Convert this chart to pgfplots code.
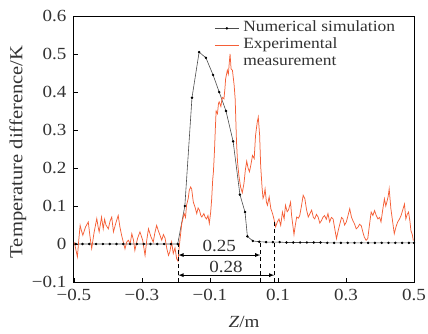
\documentclass[border=0pt]{standalone}
\usepackage{pgfplots}
\pgfplotsset{compat=1.18}
\usepackage{fontspec}
\setmainfont{Liberation Serif}[FakeStretch=1.12]
\definecolor{expc}{RGB}{245,95,55}
\definecolor{txt}{RGB}{50,50,50}
\begin{document}
\begin{tikzpicture}
\begin{axis}[
  scale only axis, width=340pt, height=266pt,
  at={(0,0)}, anchor=south west,
  xmin=-0.5, xmax=0.5, ymin=-0.1, ymax=0.6,
  xtick={-0.5,-0.3,-0.1,0.1,0.3,0.5},
  xticklabels={−0.5,−0.3,−0.1,0.1,0.3,0.5},
  ytick={-0.1,0,0.1,0.2,0.3,0.4,0.5,0.6},
  yticklabels={−0.1,0,0.1,0.2,0.3,0.4,0.5,0.6},
  tick pos=left, tick align=inside, major tick length=4pt,
  axis line style={line width=1pt, black},
  tick style={line width=0.8pt, black},
  ticklabel style={font=\fontsize{17}{20}\selectfont, text=txt},
  xticklabel style={yshift=-4pt},
  yticklabel style={xshift=-4pt},
  xlabel={\textit{Z}/m},
  ylabel={Temperature difference/K},
  xlabel style={at={(axis description cs:0.5,-0.152)}, anchor=center, font=\fontsize{17}{20}\selectfont, text=txt},
  ylabel style={at={(axis description cs:-0.165,0.489)}, anchor=center, rotate=0, font=\fontsize{18.4}{20}\selectfont, text=txt},
  legend style={at={(axis description cs:0.41,0.99)}, anchor=north west, draw=none, fill=none,
    font=\fontsize{15.6}{16}\selectfont, text=txt, row sep=0pt, inner sep=1pt,
    nodes={text height=11pt, text depth=4pt, inner sep=1pt}},
  legend cell align=left,
  legend image code/.code={\draw[mark repeat=2,mark phase=2,#1] plot coordinates {(0cm,0cm) (0.42cm,0cm) (0.84cm,0cm)};},
  legend style={/tikz/every odd column/.append style={column sep=3pt}},
]
\addplot[black!70, line width=0.6pt, mark=*, mark size=0.9pt, mark options={fill=black, draw=black}] coordinates {
(-0.495,0) (-0.475,0) (-0.455,0) (-0.435,0) (-0.415,0) (-0.395,0) (-0.375,0) (-0.355,0)
(-0.335,0) (-0.315,0) (-0.295,0) (-0.275,0) (-0.255,0) (-0.235,0) (-0.215,0) (-0.195,0)
(-0.174,0.10) (-0.153,0.385) (-0.132,0.505) (-0.112,0.49) (-0.091,0.445) (-0.073,0.40)
(-0.053,0.35) (-0.032,0.27) (-0.012,0.13) (0.003,0.084) (0.010,0.02) (0.026,0.008)
(0.045,0.006) (0.065,0.005) (0.085,0.005) (0.105,0.005) (0.125,0.004) (0.145,0.004)
(0.165,0.004) (0.185,0.004) (0.205,0.004) (0.225,0.004) (0.245,0.003) (0.265,0.003)
(0.285,0.003) (0.305,0.003) (0.325,0.003) (0.345,0.003) (0.365,0.003) (0.385,0.003)
(0.405,0.003) (0.425,0.003) (0.445,0.003) (0.465,0.003) (0.485,0.003) (0.500,0.003)
};
\addlegendentry{Numerical simulation}
\addplot[expc, line width=0.75pt] table {
x y
-0.500 0.005
-0.497 -0.004
-0.490 -0.034
-0.486 0.010
-0.482 0.049
-0.478 0.035
-0.474 0.023
-0.466 0.045
-0.458 0.058
-0.453 0.020
-0.448 -0.012
-0.441 0.030
-0.433 0.067
-0.429 0.045
-0.426 0.032
-0.419 0.071
-0.414 0.040
-0.410 0.065
-0.406 0.050
-0.399 0.040
-0.394 0.060
-0.389 0.071
-0.384 0.032
-0.377 0.055
-0.370 0.075
-0.365 0.045
-0.360 0.023
-0.350 -0.013
-0.345 0.005
-0.340 0.010
-0.335 0.000
-0.330 0.027
-0.325 0.010
-0.321 -0.017
-0.313 0.015
-0.306 0.032
-0.298 0.010
-0.291 -0.030
-0.286 0.010
-0.281 0.040
-0.274 0.020
-0.267 0.005
-0.262 0.030
-0.257 0.049
-0.252 0.035
-0.247 0.023
-0.242 0.010
-0.237 0.025
-0.232 0.015
-0.227 -0.012
-0.222 -0.030
-0.218 -0.020
-0.213 0.005
-0.208 -0.025
-0.203 -0.010
-0.198 -0.039
-0.194 -0.045
-0.190 -0.003
-0.186 0.030
-0.183 0.054
-0.176 0.080
-0.172 0.070
-0.169 0.102
-0.164 0.120
-0.161 0.141
-0.157 0.150
-0.154 0.145
-0.149 0.110
-0.144 0.097
-0.139 0.080
-0.135 0.095
-0.131 0.089
-0.127 0.075
-0.124 0.071
-0.118 0.080
-0.114 0.070
-0.110 0.066
-0.106 0.075
-0.102 0.054
-0.098 0.084
-0.095 0.119
-0.092 0.170
-0.090 0.189
-0.087 0.242
-0.084 0.310
-0.082 0.350
-0.078 0.343
-0.075 0.370
-0.073 0.374
-0.068 0.362
-0.064 0.386
-0.059 0.382
-0.056 0.410
-0.054 0.435
-0.049 0.457
-0.046 0.447
-0.043 0.480
-0.041 0.500
-0.038 0.461
-0.034 0.457
-0.029 0.418
-0.026 0.382
-0.022 0.268
-0.019 0.216
-0.015 0.180
-0.010 0.150
-0.005 0.135
0.000 0.160
0.004 0.195
0.008 0.218
0.012 0.200
0.016 0.190
0.020 0.207
0.025 0.233
0.030 0.225
0.034 0.286
0.039 0.321
0.042 0.334
0.046 0.286
0.049 0.207
0.053 0.150
0.056 0.120
0.059 0.128
0.062 0.145
0.066 0.110
0.069 0.102
0.074 0.124
0.079 0.093
0.084 0.080
0.088 0.066
0.093 0.045
0.098 0.058
0.103 0.066
0.108 0.049
0.113 0.084
0.118 0.066
0.122 0.102
0.127 0.085
0.131 0.090
0.137 0.110
0.140 0.075
0.147 0.025
0.151 0.050
0.155 0.071
0.160 0.068
0.164 0.075
0.169 0.100
0.174 0.128
0.179 0.119
0.184 0.090
0.189 0.071
0.194 0.080
0.199 0.089
0.204 0.070
0.208 0.066
0.213 0.078
0.218 0.071
0.223 0.055
0.228 0.062
0.232 0.070
0.237 0.075
0.242 0.065
0.247 0.080
0.252 0.058
0.257 0.070
0.262 0.066
0.267 0.040
0.272 0.014
0.277 0.035
0.282 0.053
0.287 0.070
0.291 0.066
0.296 0.050
0.301 0.058
0.306 0.075
0.311 0.093
0.316 0.071
0.321 0.060
0.325 0.053
0.330 0.040
0.335 0.044
0.340 0.052
0.345 0.048
0.350 0.030
0.354 0.018
0.359 0.010
0.364 0.014
0.369 0.050
0.374 0.084
0.379 0.075
0.384 0.088
0.389 0.075
0.394 0.066
0.399 0.070
0.403 0.058
0.408 0.090
0.413 0.119
0.417 0.100
0.420 0.110
0.424 0.125
0.427 0.145
0.432 0.093
0.437 0.060
0.442 0.027
0.447 0.045
0.452 0.058
0.457 0.065
0.462 0.075
0.467 0.090
0.472 0.105
0.476 0.066
0.480 0.078
0.484 0.084
0.488 0.060
0.491 0.035
0.495 0.025
0.498 0.009
};
\addlegendentry{Experimental}
\addlegendimage{empty legend}
\addlegendentry{measurement}
% annotations
\draw[black, line width=0.9pt, dash pattern=on 4pt off 3pt] (axis cs:-0.193,-0.1) -- (axis cs:-0.193,0.0);
\draw[black, line width=0.9pt, dash pattern=on 4pt off 3pt] (axis cs:0.048,-0.1) -- (axis cs:0.048,0.006);
\draw[black, line width=0.9pt, dash pattern=on 4pt off 3pt] (axis cs:0.089,-0.1) -- (axis cs:0.089,0.062);
\draw[black, line width=0.8pt, <->, >=latex] (axis cs:-0.193,-0.029) -- (axis cs:0.048,-0.029);
\draw[black, line width=0.8pt, <->, >=latex] (axis cs:-0.193,-0.082) -- (axis cs:0.089,-0.082);
\node[font=\fontsize{17}{20}\selectfont, text=txt] at (axis cs:-0.073,-0.006) {0.25};
\node[font=\fontsize{17}{20}\selectfont, text=txt] at (axis cs:-0.053,-0.060) {0.28};
\end{axis}
\pgfresetboundingbox
\useasboundingbox (-74pt,-51pt) rectangle (354pt,282pt);
\end{tikzpicture}
\end{document}
